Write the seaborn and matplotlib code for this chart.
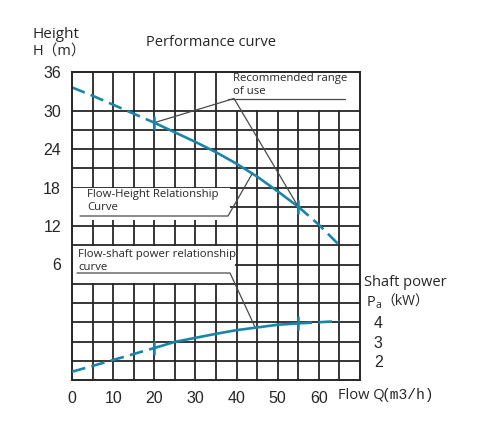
import numpy as np
import matplotlib
matplotlib.use("Agg")
import matplotlib.pyplot as plt
from matplotlib.patches import Rectangle
import seaborn as sns

# 流量 Q (m3/h)
flow = [0, 5, 10, 15, 20, 25, 30, 35, 40, 45, 50, 55, 60, 65]
# 扬程 H (m)
head = [33.6, 32.3, 30.9, 29.5, 28.1, 26.6, 25.1, 23.5, 21.7, 19.7, 17.4, 15.0, 12.2, 9.0]
# 轴功率 Pa (kW)
power = [1.43, 1.73, 2.04, 2.35, 2.66, 2.98, 3.19, 3.40, 3.59, 3.73, 3.87, 3.94, 4.00, 4.06]
# 推荐使用范围
q_range = [20, 55]

x_ticks = [0, 10, 20, 30, 40, 50, 60]
h_ticks = [6, 12, 18, 24, 30, 36]
p_ticks = [2, 3, 4]

sns.set_style("white")
plt.rcParams['font.family'] = ['Open Sans', 'Noto Sans CJK SC', 'DejaVu Sans']

W, H = 478, 442
CURVE = '#1a85a8'
GRID = '#262626'
LEAD = '#4a4a4a'


def fx(x):
    return x / W


def fy(y):
    return 1 - y / H


fig = plt.figure(figsize=(W / 100, H / 100), dpi=100)
ax = fig.add_axes([fx(72), fy(380), 288 / W, 308 / H])
ax.set_xlim(0, 70)
ax.set_ylim(-12, 36)
ax2 = ax.twinx()
ax2.set_ylim(1, 17)

# 网格
for q in range(5, 70, 5):
    ax.axvline(q, color=GRID, lw=1.3, zorder=1)
for h in range(-9, 36, 3):
    if h != 33:
        ax.axhline(h, color=GRID, lw=1.3, zorder=1)
for s in ax.spines.values():
    s.set_color(GRID)
    s.set_linewidth(1.4)
    s.set_zorder(4)
for s in ax2.spines.values():
    s.set_visible(False)

# 标注背景
for (q0, h0, w, hh) in [(38.0, 30.15, 32.0, 5.85), (0, 12.9, 38.4, 5.0), (0, 3.1, 39.6, 5.85)]:
    ax.add_patch(Rectangle((q0, h0), w, hh, facecolor='white', edgecolor='none', zorder=2))

# 曲线
fq = np.array(flow)
segs = [(fq <= q_range[0], (0, (5.2, 2.4))),
        ((fq >= q_range[0]) & (fq <= q_range[1]), '-'),
        (fq >= q_range[1], (0, (5.2, 2.4)))]
for mask, ls in segs:
    sns.lineplot(x=fq[mask], y=np.array(head)[mask], ax=ax, color=CURVE, lw=1.9,
                 linestyle=ls, zorder=3)
    sns.lineplot(x=fq[mask], y=np.array(power)[mask], ax=ax2, color=CURVE, lw=1.9,
                 linestyle=ls, zorder=3)
ax.plot(q_range, np.interp(q_range, flow, head), ls='none', marker='|', ms=10,
        mew=1.8, color=CURVE, zorder=3.6)
ax2.plot(q_range, np.interp(q_range, flow, power), ls='none', marker='|', ms=10,
         mew=1.8, color=CURVE, zorder=3.6)
ax.set_xlabel('')
ax.set_ylabel('')
ax2.set_ylabel('')

# 刻度
tick_font = dict(family='Liberation Sans', size=11.5)
ax.set_xticks(x_ticks)
ax.set_xticklabels([str(v) for v in x_ticks], fontdict=tick_font)
ax.set_yticks(h_ticks)
ax.set_yticklabels([str(v) for v in h_ticks], fontdict=tick_font)
ax2.set_yticks(p_ticks)
ax2.set_yticklabels([str(v) for v in p_ticks], fontdict=tick_font)
ax.tick_params(axis='x', length=0, pad=8)
ax.tick_params(axis='y', length=0, pad=8)
ax2.tick_params(axis='y', length=0, pad=10)


# 引线
def to_data(x, y):
    return (x - 72) * 70 / 288, 36 - (y - 72) * 48 / 308


def lead(points):
    pts = [to_data(*p) for p in points]
    ax.plot([p[0] for p in pts], [p[1] for p in pts], color=LEAD, lw=0.9,
            zorder=3.5, clip_on=False)


h20 = np.interp(q_range[0], flow, head)
h55 = np.interp(q_range[1], flow, head)
q0, hy = to_data(234, 98.5)
ax.plot([q_range[0], q0, q_range[1]], [h20, hy, h55], color=LEAD, lw=0.9, zorder=3.5)
lead([(228, 98.5), (345, 98.5)])
lead([(80, 216), (228, 216), (252, 174)])
lead([(77, 273), (230, 273), (255, 327)])

ann = dict(fontsize=8.2, va='center', ha='left')
fig.text(fx(233), fy(79), 'Recommended range', **ann)
fig.text(fx(233), fy(92), 'of use', **ann)
fig.text(fx(87), fy(195), 'Flow-Height Relationship', **ann)
fig.text(fx(87), fy(208), 'Curve', **ann)
fig.text(fx(78), fy(255), 'Flow-shaft power relationship', **ann)
fig.text(fx(78), fy(268), 'curve', **ann)

# 标题与坐标说明
fig.text(fx(211), fy(42), 'Performance curve', fontsize=10.5, ha='center', va='center')
fig.text(fx(33), fy(34), 'Height', fontsize=11, ha='left', va='center')
fig.text(fx(33), fy(51), 'H（m）', fontsize=10.5, ha='left', va='center')
fig.text(fx(364), fy(283), 'Shaft power', fontsize=10.5, ha='left', va='center')
fig.text(fx(367), fy(302), 'P', fontsize=10.5, ha='left', va='center')
fig.text(fx(376), fy(306), 'a', fontsize=7.5, ha='left', va='center')
fig.text(fx(381), fy(302), '（kW）', fontsize=10, ha='left', va='center')
fig.text(fx(338), fy(395), 'Flow Q', fontsize=10.5, ha='left', va='center')
fig.text(fx(381), fy(395), '(m3/h)', fontsize=10.5, ha='left', va='center',
         family='Liberation Mono')

fig.savefig('out.png', dpi=100)
